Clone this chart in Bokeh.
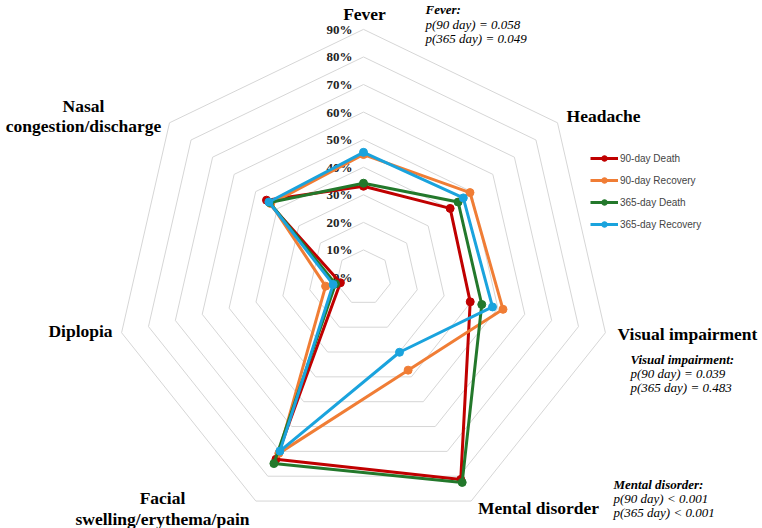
import math
from bokeh.plotting import figure
from bokeh.models import Range1d, Legend, LegendItem
from bokeh.core.properties import value
from bokeh.embed import file_html
from bokeh.resources import INLINE

categories = ["Fever", "Headache", "Visual impairment", "Mental disorder",
              "Facial swelling/erythema/pain", "Diplopia", "Nasal congestion/discharge"]
series_names = ["90-day Death", "90-day Recovery", "365-day Death", "365-day Recovery"]
death_90 = [33.1, 40.2, 39.7, 81.3, 73.2, 8.6, 45.0]
recovery_90 = [44.6, 49.4, 51.9, 37.3, 70.8, 14.1, 43.0]
death_365 = [34.2, 43.9, 44.0, 82.5, 74.9, 10.4, 43.6]
recovery_365 = [45.4, 46.3, 48.0, 30.1, 69.9, 11.3, 43.9]
tick_values = [0, 10, 20, 30, 40, 50, 60, 70, 80, 90]
tick_labels = ["0%", "10%", "20%", "30%", "40%", "50%", "60%", "70%", "80%", "90%"]
colors = ["#C00000", "#F07D35", "#23782B", "#1AA3DD"]

W, H = 762, 528
CX, CY = 363.0, 277.0
S = 2.757  # px per percent


def P(px, py):
    return (px - CX) / S, (CY - py) / S


n = len(categories)
angles = [2 * math.pi * k / n for k in range(n)]

p = figure(width=W, height=H, output_backend="svg", toolbar_location=None,
           x_range=Range1d(-CX / S, (W - CX) / S), y_range=Range1d(-(H - CY) / S, CY / S),
           min_border=0)
p.axis.visible = False
p.grid.visible = False
p.outline_line_color = None
p.background_fill_color = "white"

# grid heptagons
for t in tick_values[1:]:
    xs = [t * math.sin(a) for a in angles] + [0]
    ys = [t * math.cos(a) for a in angles] + [t]
    p.line(xs, ys, line_color="#D6D6D6", line_width=1)

# value labels
serif = value("Liberation Serif")
lx = [P(352, 0)[0]] * len(tick_values)
p.text(lx, tick_values, text=tick_labels, text_font=serif, text_font_style="bold",
       text_font_size="13px", text_align="right", text_baseline="middle", text_color="#222222")

# series
renderers = []
for vals, col in zip([death_90, recovery_90, death_365, recovery_365], colors):
    xs = [v * math.sin(a) for v, a in zip(vals, angles)]
    ys = [v * math.cos(a) for v, a in zip(vals, angles)]
    l = p.line(xs + xs[:1], ys + ys[:1], line_color=col, line_width=3, line_join="round")
    s = p.scatter(xs, ys, size=8, fill_color=col, line_color=col)
    renderers.append((l, s))

# category labels
def label(txt, px, py, size="17.5px", style="bold", align="center", font=serif, color="black"):
    x, y = P(px, py)
    p.text([x], [y], text=[txt], text_font=font, text_font_style=style, text_font_size=size,
           text_align=align, text_baseline="middle", text_color=color)

label("Fever", 364, 13)
label("Headache", 603, 115)
label("Visual impairment", 687, 333)
label("Mental disorder", 538, 507)
label("Facial", 162, 497)
label("swelling/erythema/pain", 162, 518)
label("Diplopia", 80, 330)
label("Nasal", 83, 105)
label("congestion/discharge", 83, 125)

# p-value annotations
ann = [
    ("Fever:", 425, 9, "bold italic"),
    ("p(90 day) = 0.058", 425, 24, "italic"),
    ("p(365 day) = 0.049", 425, 38, "italic"),
    ("Visual impairment:", 630, 359, "bold italic"),
    ("p(90 day) = 0.039", 630, 373, "italic"),
    ("p(365 day) = 0.483", 630, 387, "italic"),
    ("Mental disorder:", 613, 484, "bold italic"),
    ("p(90 day) < 0.001", 613, 498, "italic"),
    ("p(365 day) < 0.001", 613, 512, "italic"),
]
for txt, px, py, st in ann:
    label(txt, px, py, size="13px", style=st, align="left")

items = [LegendItem(label=nm, renderers=[l, s]) for nm, (l, s) in zip(series_names, renderers)]
legend = Legend(items=items, location=(590, 528 - 231), orientation="vertical",
                label_text_font="Liberation Sans", label_text_font_size="10px",
                glyph_width=28, glyph_height=14, spacing=8, padding=4, margin=0,
                label_standoff=2, border_line_color=None, background_fill_alpha=0)
p.add_layout(legend, "center")

open("out.html", "w").write(file_html(p, INLINE))
